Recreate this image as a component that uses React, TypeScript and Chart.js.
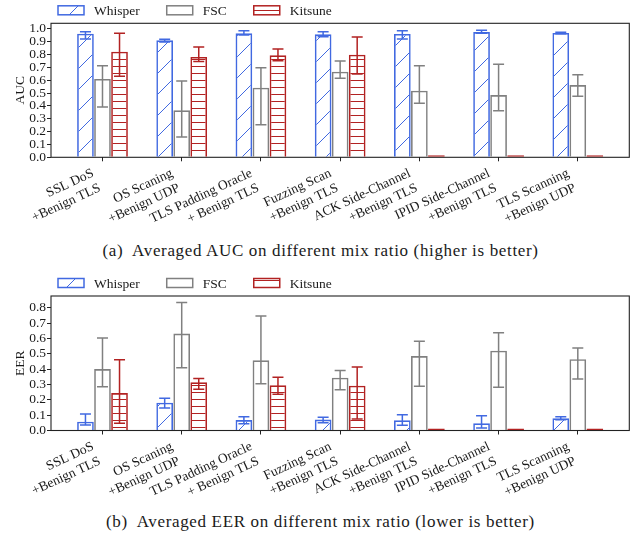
import React, { useEffect, useRef } from 'react';
import { Chart, registerables } from 'chart.js';

Chart.register(...registerables);

// ---------------- data ----------------
const categories: string[][] = [
  ['SSL DoS', '+Benign TLS'],
  ['OS Scaning', '+Benign UDP'],
  ['TLS Padding Oracle', '+ Benign TLS'],
  ['Fuzzing Scan', '+Benign TLS'],
  ['ACK Side-Channel', '+Benign TLS'],
  ['IPID Side-Channel', '+Benign TLS'],
  ['TLS Scanning', '+Benign UDP'],
];
const seriesNames = ['Whisper', 'FSC', 'Kitsune'];

const aucWhisper = [0.961, 0.91, 0.964, 0.956, 0.959, 0.974, 0.967];
const aucWhisperLow = [0.92, 0.897, 0.951, 0.938, 0.92, 0.964, 0.961];
const aucWhisperHigh = [0.977, 0.918, 0.985, 0.977, 0.985, 0.988, 0.972];
const aucFSC = [0.609, 0.365, 0.541, 0.666, 0.518, 0.484, 0.562];
const aucFSCLow = [0.391, 0.158, 0.254, 0.614, 0.42, 0.362, 0.474];
const aucFSCHigh = [0.712, 0.593, 0.697, 0.749, 0.712, 0.723, 0.642];
const aucKitsune = [0.821, 0.78, 0.793, 0.798, 0, 0, 0];
const aucKitsuneLow = [0.63, 0.744, 0.751, 0.648, null, null, null];
const aucKitsuneHigh = [0.964, 0.858, 0.842, 0.935, null, null, null];

const eerWhisper = [0.057, 0.181, 0.068, 0.071, 0.066, 0.047, 0.079];
const eerWhisperLow = [0.036, 0.147, 0.044, 0.05, 0.034, 0.016, 0.07];
const eerWhisperHigh = [0.107, 0.21, 0.09, 0.086, 0.103, 0.096, 0.09];
const eerFSC = [0.4, 0.631, 0.457, 0.344, 0.485, 0.52, 0.464];
const eerFSCLow = [0.285, 0.409, 0.305, 0.266, 0.288, 0.281, 0.335];
const eerFSCHigh = [0.603, 0.833, 0.746, 0.39, 0.581, 0.637, 0.537];
const eerKitsune = [0.244, 0.314, 0.294, 0.292, 0, 0, 0];
const eerKitsuneLow = [0.047, 0.268, 0.236, 0.075, null, null, null];
const eerKitsuneHigh = [0.461, 0.338, 0.347, 0.414, null, null, null];

const aucTicks = ['0.0', '0.1', '0.2', '0.3', '0.4', '0.5', '0.6', '0.7', '0.8', '0.9', '1.0'];
const eerTicks = ['0.0', '0.1', '0.2', '0.3', '0.4', '0.5', '0.6', '0.7', '0.8'];

const captionA = '(a)  Averaged AUC on different mix ratio (higher is better)';
const captionB = '(b)  Averaged EER on different mix ratio (lower is better)';

// ---------------- styles ----------------
const FONT = "'Liberation Serif', 'Times New Roman', serif";
const TEXT = '#1a1a1a';
const COLORS = ['#4169E1', '#808080', '#B22222'];
const HATCHES = ['diag', 'none', 'horiz'];
const CAP = 5.5;

function makeHatch(kind: string, color: string): any {
  if (kind === 'none') return 'rgba(255,255,255,0)';
  const c = document.createElement('canvas');
  const g = c.getContext('2d')!;
  if (kind === 'diag') {
    const s = 21;
    c.width = s;
    c.height = s;
    g.strokeStyle = color;
    g.lineWidth = 1;
    for (let k = -1; k <= 1; k++) {
      g.beginPath();
      g.moveTo(k * s, s);
      g.lineTo(k * s + s, 0);
      g.stroke();
    }
  } else {
    c.width = 7;
    c.height = 7;
    g.fillStyle = color;
    g.fillRect(0, 3, 7, 1);
  }
  return g.createPattern(c, 'repeat');
}

type Spec = {
  yTitle: string;
  yMax: number;
  yTicks: string[];
  values: number[][];
  lows: (number | null)[][];
  highs: (number | null)[][];
  areaTop: number;
  areaBottom: number;
  height: number;
};

function Panel({ spec, top }: { spec: Spec; top: number }) {
  const ref = useRef<HTMLCanvasElement>(null);
  useEffect(() => {
    const canvas = ref.current!;
    const patterns = HATCHES.map((h, i) => makeHatch(h, COLORS[i]));
    const font = { family: FONT, size: 13.5 };
    const decor = {
      id: 'decor',
      beforeDatasetsDraw(chart: any) {
        const ctx = chart.ctx;
        const a = chart.chartArea;
        ctx.save();
        ctx.strokeStyle = '#222';
        ctx.lineWidth = 1.1;
        ctx.strokeRect(a.left, a.top, a.right - a.left, a.bottom - a.top);
        ctx.restore();
      },
      afterDatasetsDraw(chart: any) {
        const ctx = chart.ctx;
        const ys = chart.scales.y;
        ctx.save();
        ctx.lineWidth = 1.5;
        spec.values.forEach((vals, d) => {
          const meta = chart.getDatasetMeta(d);
          ctx.strokeStyle = COLORS[d];
          vals.forEach((_, j) => {
            const lo = spec.lows[d][j];
            const hi = spec.highs[d][j];
            if (lo == null || hi == null) return;
            const bar: any = meta.data[j];
            const x = bar.x;
            const y1 = ys.getPixelForValue(lo);
            const y2 = ys.getPixelForValue(hi);
            ctx.beginPath();
            ctx.moveTo(x, y1);
            ctx.lineTo(x, y2);
            ctx.moveTo(x - CAP, y1);
            ctx.lineTo(x + CAP, y1);
            ctx.moveTo(x - CAP, y2);
            ctx.lineTo(x + CAP, y2);
            ctx.stroke();
          });
        });
        ctx.restore();
      },
      afterDraw(chart: any) {
        const ctx = chart.ctx;
        const a = chart.chartArea;
        ctx.save();
        ctx.font = `13.5px ${FONT}`;
        ctx.textBaseline = 'middle';
        let x = a.left + 7;
        const cy = a.top - 13;
        seriesNames.forEach((name, d) => {
          ctx.fillStyle = patterns[d];
          ctx.fillRect(x, cy - 4.5, 26, 9);
          ctx.strokeStyle = COLORS[d];
          ctx.lineWidth = 1.5;
          ctx.strokeRect(x, cy - 4.5, 26, 9);
          ctx.fillStyle = TEXT;
          ctx.fillText(name, x + 36, cy + 1);
          x += 36 + ctx.measureText(name).width + 27;
        });
        ctx.restore();
      },
    };

    const chart = new Chart(canvas, {
      type: 'bar',
      data: {
        datasets: spec.values.map((vals, d) => ({
          label: seriesNames[d],
          data: vals.map((v, i) => ({ x: i, y: v })),
          backgroundColor: patterns[d],
          borderColor: COLORS[d],
          borderWidth: 1.6,
          borderSkipped: (c: any) => (c.raw && c.raw.y === 0 ? false : 'start'),
          minBarLength: 2,
          categoryPercentage: 0.645,
          barPercentage: 0.98,
        })) as any,
      },
      options: {
        animation: false,
        responsive: false,
        events: [],
        layout: { padding: { top: spec.areaTop, right: 11.7, left: 0, bottom: 0 } },
        plugins: {
          legend: { display: false },
          tooltip: { enabled: false },
        },
        scales: {
          x: {
            type: 'linear',
            min: -0.65,
            max: 6.65,
            offset: false,
            afterBuildTicks: (axis: any) => {
              axis.ticks = categories.map((_, i) => ({ value: i }));
            },
            afterFit: (axis: any) => {
              axis.height = spec.height - spec.areaBottom;
              axis.paddingLeft = 0;
              axis.paddingRight = 0;
            },
            ticks: {
              font,
              color: TEXT,
              autoSkip: false,
              minRotation: 25,
              maxRotation: 25,
              padding: 4,
              labelOffset: -9.5,
              callback: (_v: any, i: number) => categories[i],
            },
            grid: {
              display: true,
              offset: false,
              drawOnChartArea: false,
              drawTicks: true,
              tickLength: 4,
              color: '#222',
              lineWidth: 1,
            },
            border: { display: false },
          } as any,
          y: {
            type: 'linear',
            min: 0,
            max: spec.yMax,
            afterBuildTicks: (axis: any) => {
              axis.ticks = spec.yTicks.map((t) => ({ value: Number(t) }));
            },
            afterFit: (axis: any) => {
              axis.width = 51;
              axis.paddingTop = 0;
              axis.paddingBottom = 0;
            },
            ticks: {
              font,
              color: TEXT,
              autoSkip: false,
              padding: 1,
              callback: (_v: any, i: number) => spec.yTicks[i],
            },
            grid: {
              display: true,
              drawOnChartArea: false,
              drawTicks: true,
              tickLength: 4,
              color: '#222',
              lineWidth: 1,
            },
            border: { display: false },
            title: {
              display: true,
              text: spec.yTitle,
              font,
              color: TEXT,
              padding: { top: 12, bottom: 0 },
            },
          } as any,
        },
      },
      plugins: [decor],
    });
    return () => chart.destroy();
  }, []);
  return (
    <canvas
      ref={ref}
      width={641}
      height={spec.height}
      style={{ position: 'absolute', left: 0, top, width: 641, height: spec.height }}
    />
  );
}

const specA: Spec = {
  yTitle: 'AUC',
  yMax: 1.042,
  yTicks: aucTicks,
  values: [aucWhisper, aucFSC, aucKitsune],
  lows: [aucWhisperLow, aucFSCLow, aucKitsuneLow],
  highs: [aucWhisperHigh, aucFSCHigh, aucKitsuneHigh],
  areaTop: 23.3,
  areaBottom: 157.3,
  height: 240,
};

const specB: Spec = {
  yTitle: 'EER',
  yMax: 0.876,
  yTicks: eerTicks,
  values: [eerWhisper, eerFSC, eerKitsune],
  lows: [eerWhisperLow, eerFSCLow, eerKitsuneLow],
  highs: [eerWhisperHigh, eerFSCHigh, eerKitsuneHigh],
  areaTop: 26,
  areaBottom: 160.5,
  height: 240,
};

const captionStyle = (top: number): React.CSSProperties => ({
  position: 'absolute',
  left: 0,
  top,
  width: 641,
  textAlign: 'center',
  fontFamily: FONT,
  fontSize: 17,
  lineHeight: '20px',
  letterSpacing: '0.65px',
  color: TEXT,
  whiteSpace: 'pre',
});

export default function App() {
  return (
    <div style={{ position: 'absolute', left: 0, top: 0, width: 641, height: 542, background: '#fff' }}>
      <Panel spec={specA} top={0} />
      <div style={captionStyle(241)}>{captionA}</div>
      <Panel spec={specB} top={270} />
      <div style={captionStyle(512)}>{captionB}</div>
    </div>
  );
}
